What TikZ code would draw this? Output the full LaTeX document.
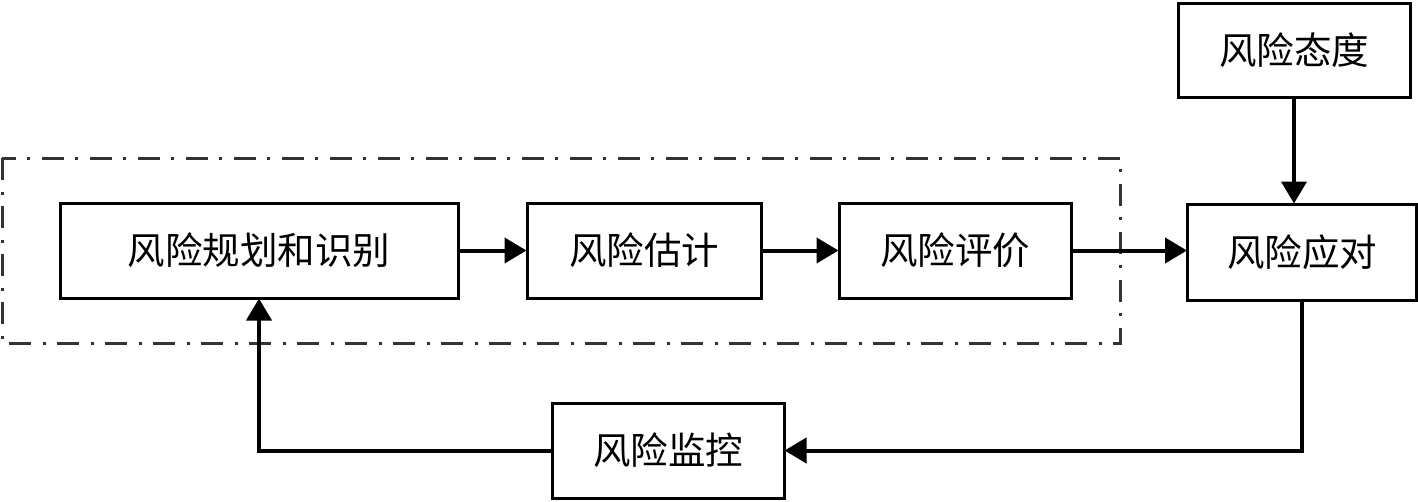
\documentclass[tikz,border=0pt]{standalone}
\usepackage{fontspec}
\newfontfamily\cjk{Noto Sans CJK SC}
\usetikzlibrary{arrows.meta}
\tikzset{
  box/.style={draw=black, line width=3pt, fill=white, minimum height=95pt, inner sep=0pt,
    font=\cjk\fontsize{37.5}{40}\selectfont},
  conn/.style={draw=black, line width=4pt, -{Triangle[length=22pt,width=25pt]}, shorten >=-1pt},
  frame/.style={draw=black!80, line width=3pt, dash pattern=on 22pt off 12pt on 3pt off 11pt}
}
\begin{document}
\begin{tikzpicture}[x=1pt,y=-1pt]
\useasboundingbox (0,0) rectangle (1418,501);
\draw[frame] (2,158) rectangle (1120,343);
\node[box, minimum width=398pt] (plan) at (259,250.5) {风险规划和识别};
\node[box, minimum width=234pt] (est) at (644,250.5) {风险估计};
\node[box, minimum width=232pt] (eval) at (955,250.5) {风险评价};
\node[box, minimum width=229pt, minimum height=96pt] (resp) at (1302,252) {风险应对};
\node[box, minimum width=232pt, minimum height=94pt] (att) at (1294,50) {风险态度};
\node[box, minimum width=232pt] (mon) at (668,450.5) {风险监控};
\draw[conn] (plan) -- (est);
\draw[conn] (est) -- (eval);
\draw[conn] (eval.east) -- (eval.east -| resp.west);
\draw[conn] (att) -- (att |- resp.north);
\draw[conn] (resp.south) |- (mon.east);
\draw[conn] (mon.west) -| (plan.south);
\end{tikzpicture}
\end{document}
